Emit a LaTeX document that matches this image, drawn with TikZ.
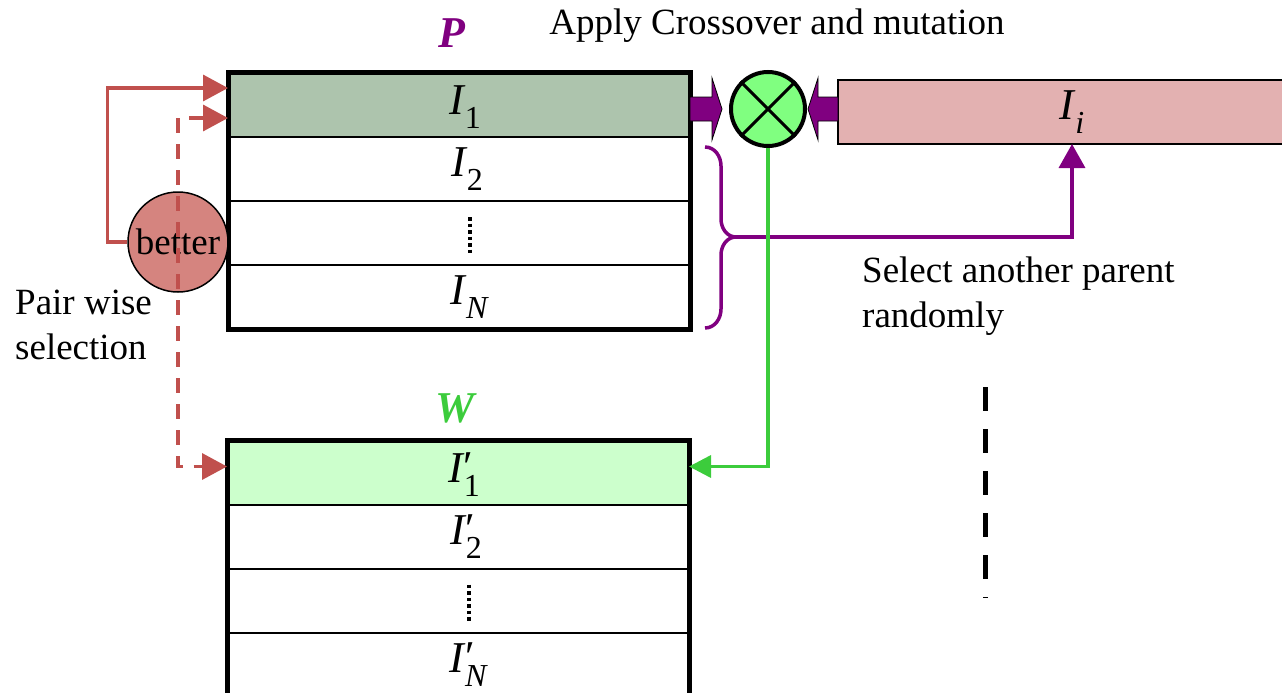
\documentclass[tikz,border=0pt]{standalone}
\usepackage{fontspec}
\setmainfont{Liberation Serif}
\usetikzlibrary{arrows.meta,calc}
\definecolor{pgreen}{HTML}{ADC4AD}
\definecolor{wgreen}{HTML}{CCFFCC}
\definecolor{ipink}{HTML}{E3B1B1}
\definecolor{xgreen}{HTML}{80FF80}
\definecolor{purp}{HTML}{800080}
\definecolor{redl}{HTML}{C0504D}
\definecolor{betfill}{HTML}{D5847F}
\definecolor{lgreen}{HTML}{3CCC3C}
\newcommand\Iv[2]{\mbox{\itshape I\kern0.02em\rlap{\raisebox{0.02em}{\upshape #2}}\raisebox{-0.33em}{\fontsize{32}{32}\selectfont #1}}}
\begin{document}
\begin{tikzpicture}[x=1pt,y=-1pt,
  font=\fontsize{37}{45}\selectfont,
  rowbox/.style={draw, line width=2pt, minimum width=462pt, minimum height=64pt, inner sep=0pt, outer sep=0pt},
  biglab/.style={font=\fontsize{44}{50}\selectfont\bfseries\itshape},
  rowlab/.style={font=\fontsize{44}{50}\selectfont},
  redline/.style={draw=redl, line width=3.5pt},
  redtip/.style={-{Triangle[length=25pt,width=26pt]}},
  blockarrow/.style={fill=purp, draw=black, line width=0.8pt},
  vdots/.style={line width=3.5pt, dash pattern=on 3.5pt off 3pt}
]
\useasboundingbox (0,0) rectangle (1282,693);

% population P
\node[rowbox, fill=pgreen] (p1) at (459,105) {};
\node[rowbox, anchor=north] (p2) at (p1.south) {};
\node[rowbox, anchor=north] (p3) at (p2.south) {};
\node[rowbox, anchor=north] (p4) at (p3.south) {};
\draw[line width=5pt] (p1.north west) rectangle (p4.south east);
\node[rowlab] at ($(p1.center)+(6,2)$) {\Iv{\upshape 1}{}};
\node[rowlab] at ($(p2.center)+(8,0)$) {\Iv{\upshape 2}{}};
\node[rowlab] at ($(p4.center)+(10,0)$) {\Iv{N}{}};
\draw[vdots] ($(p3.center)+(11,-16)$) -- ($(p3.center)+(11,22)$);
\node[biglab, text=purp] (plab) at (452,33) {P};

% population W
\node[rowbox, fill=wgreen] (w1) at (458,472.5) {};
\node[rowbox, anchor=north] (w2) at (w1.south) {};
\node[rowbox, anchor=north] (w3) at (w2.south) {};
\node[rowbox, anchor=north] (w4) at (w3.south) {};
\draw[line width=5pt] (w1.north west) rectangle (w4.south east);
\node[rowlab] at ($(w1.center)+(6,2)$) {\Iv{\upshape 1}{′}};
\node[rowlab] at ($(w2.center)+(8,0)$) {\Iv{\upshape 2}{′}};
\node[rowlab] at ($(w4.center)+(10,0)$) {\Iv{N}{′}};
\draw[vdots] ($(w3.center)+(11,-16)$) -- ($(w3.center)+(11,22)$);
\node[biglab, text=lgreen] (wlab) at (455,408) {W};

% other parent
\node[draw, line width=2pt, fill=ipink, minimum width=468pt, minimum height=64pt, inner sep=0pt, outer sep=0pt] (ii) at (1072,112) {};
\node[rowlab] at ($(ii.center)+(0,0)$) {\Iv{i}{}};

% crossover operator
\node[circle, draw, line width=4pt, fill=xgreen, minimum size=74pt, inner sep=0pt] (cx) at (768,109) {};
\draw[line width=3pt] (cx.north west) -- (cx.south east);
\draw[line width=3pt] (cx.north east) -- (cx.south west);
\node (title) at (777,26) {Apply Crossover and mutation};

\coordinate (bl) at (p1.east |- cx);
\coordinate (br) at (ii.west |- cx);
\filldraw[blockarrow] ($(bl)+(0,-12)$) -- ($(bl)+(22,-12)$) -- ($(bl)+(22,-31)$) -- ($(bl)+(32,0)$)
  -- ($(bl)+(22,31)$) -- ($(bl)+(22,12)$) -- ($(bl)+(0,12)$) -- cycle;
\filldraw[blockarrow] ($(br)+(0,-12)$) -- ($(br)+(-20,-12)$) -- ($(br)+(-20,-31)$) -- ($(br)+(-30,0)$)
  -- ($(br)+(-20,31)$) -- ($(br)+(-20,12)$) -- ($(br)+(0,12)$) -- cycle;

% brace and random selection
\coordinate (btip) at (736,237);
\draw[purp, line width=3.5pt] (705,147) to[out=0,in=90] (721,166) -- (721,219) to[out=-90,in=180] (btip)
  (705,328) to[out=0,in=-90] (721,309) -- (721,255) to[out=90,in=180] (btip);
\draw[purp, line width=3.5pt, -{Triangle[length=24pt,width=26pt]}] (btip) -| (ii.south);
\node[anchor=west, align=left, inner sep=0pt] (sel) at (862,296) {Select another parent\\randomly};

% offspring to W
\draw[lgreen, line width=3.5pt, -{Triangle[length=22pt,width=22pt]}] (cx.south) |- ($(w1.east)+(0,-6)$);

% pairwise selection
\node[circle, draw, line width=1.5pt, fill=betfill, minimum size=100pt, inner sep=0pt] (bet) at (178,242) {better};
\coordinate (pa) at ($(p1.west)+(0,13)$);
\coordinate (wa) at ($(w1.west)+(0,-6)$);
\draw[redline, redtip] (bet.west) -- ++(-20,0) |- ($(p1.north west)+(0,15)$);
\draw[redline, dash pattern=on 15pt off 11pt, {Triangle[length=25pt,width=26pt]}-{Triangle[length=25pt,width=26pt]}]
  (pa) -- (pa -| bet) -- (wa -| bet) -- (wa);
\node[anchor=west, align=left, inner sep=0pt] (pws) at (15,325) {Pair wise\\selection};

% continuation dashes
\draw[line width=5pt, dash pattern=on 24pt off 18pt] (985,387) -- (985,598);
\end{tikzpicture}
\end{document}
